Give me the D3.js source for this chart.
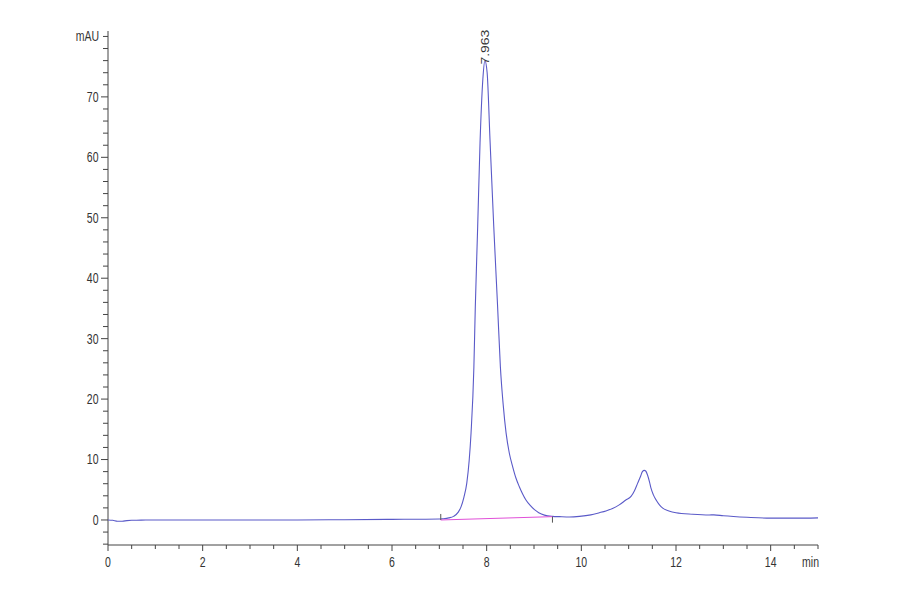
<!DOCTYPE html>
<html lang="en">
<head>
<meta charset="UTF-8">
<title>Chromatogram</title>
<script src="https://d3js.org/d3.v7.min.js"></script>
<style>
  body { margin: 0; background: #fff; }
  text { font-family: "Liberation Sans", Arial, sans-serif; fill: #333; font-size: 14px; }
</style>
</head>
<body>
<div id="chart"></div>
<script>
// retention time (min) and absorbance (mAU)
var times = [0, 0.1, 0.2, 0.3, 0.4, 0.5, 0.6, 0.8, 1, 2, 3, 4, 5, 6, 6.5, 7.0, 7.07, 7.2, 7.3, 7.4,
  7.46, 7.52, 7.58, 7.63, 7.67, 7.73, 7.76, 7.81, 7.86, 7.92, 7.963, 8.01, 8.07, 8.15, 8.23, 8.29,
  8.35, 8.41, 8.48, 8.55, 8.62, 8.69, 8.76, 8.83, 8.92, 9.01, 9.1, 9.22, 9.39, 9.54, 9.75, 9.96,
  10.2, 10.38, 10.52, 10.66, 10.8, 10.94, 11.05, 11.12, 11.19, 11.25, 11.29, 11.33, 11.36, 11.4,
  11.44, 11.47, 11.52, 11.58, 11.65, 11.72, 11.85, 12.0, 12.35, 12.7, 12.8, 13.0, 13.5, 14, 14.5, 15];
var signal = [0, -0.05, -0.2, -0.2, -0.1, -0.05, -0.05, 0, 0, 0, 0, 0, 0.05, 0.1, 0.12, 0.15, 0.2, 0.35, 0.6, 1.3,
  2.2, 3.8, 6.1, 9.8, 14.4, 25.3, 35.3, 48.5, 62.4, 73, 76, 74, 63, 48.5, 35.5, 25.3,
  19, 14.4, 11, 8.8, 6.9, 5.5, 4.3, 3.3, 2.4, 1.7, 1.2, 0.8, 0.6, 0.55, 0.5, 0.6,
  0.85, 1.2, 1.5, 1.9, 2.5, 3.3, 3.9, 4.8, 6.1, 7.2, 8.0, 8.2, 8.1, 7.4,
  6.3, 5.3, 4.2, 3.3, 2.5, 1.95, 1.5, 1.2, 0.95, 0.83, 0.85, 0.7, 0.45, 0.3, 0.3, 0.35];

// integration baseline of the main peak
var baseTimes = [7.03, 9.39];
var baseValues = [0.0, 0.55];

var peakTime = 7.963, peakHeight = 76, peakLabel = "7.963";

var xMajor = [0, 2, 4, 6, 8, 10, 12, 14];
var yMajor = [0, 10, 20, 30, 40, 50, 60, 70];

var width = 900, height = 594;
var squeeze = 0.75; // the source picture is narrowed horizontally, text too

var svg = d3.select("#chart").append("svg")
    .attr("width", width).attr("height", height);
svg.append("rect").attr("width", width).attr("height", height).attr("fill", "#fff");

var x = d3.scaleLinear().domain([0, 15]).range([108, 818]);
var y = d3.scaleLinear().domain([-4.14, 80.9]).range([545, 31]);

var axisColor = "#444";

function place(px, py) {
  return "translate(" + px + "," + py + ") scale(" + squeeze + ",1)";
}

// y axis
svg.append("line")
  .attr("x1", 108).attr("x2", 108)
  .attr("y1", y(-4.14)).attr("y2", y(80.9))
  .attr("stroke", axisColor).attr("stroke-width", 1);
var yMinor = d3.range(-4, 81, 2);
svg.append("g").selectAll("line").data(yMinor).join("line")
  .attr("x1", function(d) { return yMajor.indexOf(d) >= 0 ? 101 : 103; })
  .attr("x2", 108)
  .attr("y1", function(d) { return y(d); }).attr("y2", function(d) { return y(d); })
  .attr("stroke", axisColor);
svg.append("g").selectAll("text").data(yMajor).join("text")
  .attr("transform", function(d) { return place(98.5, y(d)); })
  .attr("dy", "0.35em").attr("text-anchor", "end")
  .text(function(d) { return d; });
svg.append("text").attr("transform", place(99, y(80) + 5))
  .attr("text-anchor", "end").text("mAU");

// x axis
svg.append("line")
  .attr("x1", x(0)).attr("x2", x(15))
  .attr("y1", 545).attr("y2", 545)
  .attr("stroke", axisColor);
var xMinor = d3.range(0, 15.01, 0.5);
svg.append("g").selectAll("line").data(xMinor).join("line")
  .attr("x1", function(d) { return x(d); }).attr("x2", function(d) { return x(d); })
  .attr("y1", 545)
  .attr("y2", function(d) { return xMajor.indexOf(d) >= 0 ? 551 : 549; })
  .attr("stroke", axisColor);
svg.append("g").selectAll("text").data(xMajor).join("text")
  .attr("transform", function(d) { return place(x(d), 567); })
  .attr("text-anchor", "middle")
  .text(function(d) { return d; });
svg.append("text").attr("transform", place(819, 567))
  .attr("text-anchor", "end").text("min");

// trace
var pts = times.map(function(t, i) { return [t, signal[i]]; });
svg.append("path")
  .datum(pts)
  .attr("fill", "none")
  .attr("stroke", "#5a5ac8")
  .attr("stroke-width", 1.1)
  .attr("d", d3.line()
    .x(function(d) { return x(d[0]); })
    .y(function(d) { return y(d[1]); })
    .curve(d3.curveMonotoneX));

// baseline and its start / end marks
svg.append("line")
  .attr("x1", x(baseTimes[0])).attr("y1", y(baseValues[0]))
  .attr("x2", x(baseTimes[1])).attr("y2", y(baseValues[1]))
  .attr("stroke", "#e050d8").attr("stroke-width", 1);
svg.append("line")
  .attr("x1", x(baseTimes[0])).attr("x2", x(baseTimes[0]))
  .attr("y1", y(baseValues[0])).attr("y2", y(baseValues[0]) - 6)
  .attr("stroke", "#555");
svg.append("line")
  .attr("x1", x(baseTimes[1])).attr("x2", x(baseTimes[1]))
  .attr("y1", y(baseValues[1])).attr("y2", y(baseValues[1]) + 6)
  .attr("stroke", "#555");

// peak label, written upward from the apex
svg.append("text")
  .attr("transform", "translate(" + (x(peakTime) + 4) + "," + (y(peakHeight) + 4) + ") scale(" + squeeze + ",1) rotate(-90)")
  .attr("font-size", 15)
  .text(peakLabel);
</script>
</body>
</html>
